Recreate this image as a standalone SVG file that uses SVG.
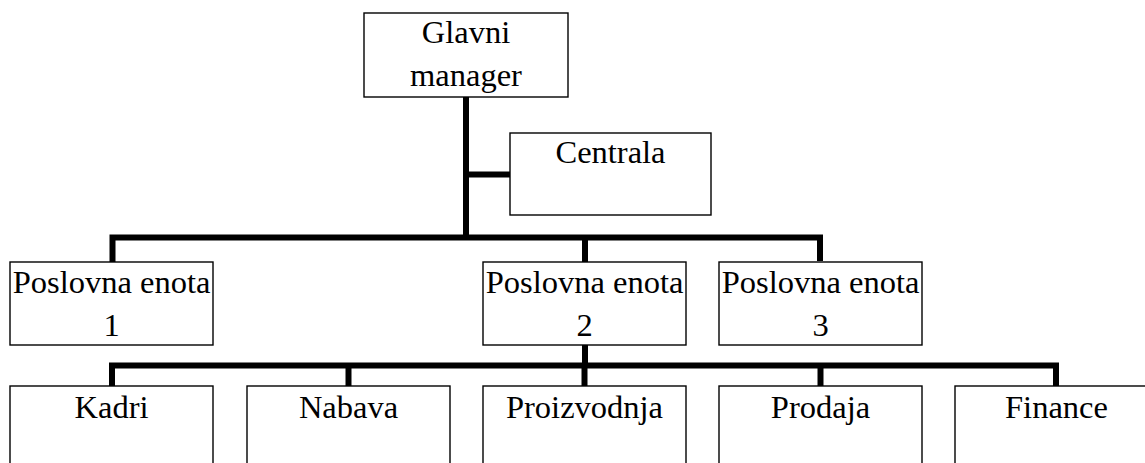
<svg xmlns="http://www.w3.org/2000/svg" width="1145" height="463" viewBox="0 0 1145 463">
<style>
.box{fill:#fff;stroke:#000;stroke-width:1.4}
.t{font-family:"Liberation Serif","Times New Roman",serif;font-size:32.5px;fill:#000;text-anchor:middle}
.c{fill:none;stroke:#000;stroke-width:6;stroke-linejoin:miter;stroke-linecap:butt}
</style>
<rect width="1145" height="463" fill="#fff"/>
<g id="connectors">
<path class="c" d="M466,97 V237.5"/>
<path class="c" d="M466,174.5 H510"/>
<path class="c" d="M112.5,262 V237.5 H820 V261"/>
<path class="c" d="M585,237.5 V262"/>
<path class="c" d="M585,345 V365.5"/>
<path class="c" d="M112,386 V365.5 H1056 V386"/>
<path class="c" d="M348.5,365.5 V386"/>
<path class="c" d="M584.5,365.5 V386"/>
<path class="c" d="M820.5,365.5 V386"/>
</g>
<g id="glavni">
<rect class="box" x="364" y="13" width="204" height="84"/>
<text class="t" x="466" y="43">Glavni</text>
<text class="t" x="466" y="86">manager</text>
</g>
<g id="centrala">
<rect class="box" x="510" y="133" width="201" height="82"/>
<text class="t" x="610.5" y="163">Centrala</text>
</g>
<g id="pe1">
<rect class="box" x="10" y="262" width="203" height="83"/>
<text class="t" x="111.5" y="293">Poslovna enota</text>
<text class="t" x="111.5" y="336">1</text>
</g>
<g id="pe2">
<rect class="box" x="483" y="262" width="203" height="83"/>
<text class="t" x="584.5" y="293">Poslovna enota</text>
<text class="t" x="584.5" y="336">2</text>
</g>
<g id="pe3">
<rect class="box" x="719" y="262" width="203" height="83"/>
<text class="t" x="820.5" y="293">Poslovna enota</text>
<text class="t" x="820.5" y="336">3</text>
</g>
<g id="kadri">
<rect class="box" x="10" y="386" width="203" height="90"/>
<text class="t" x="111.5" y="418">Kadri</text>
</g>
<g id="nabava">
<rect class="box" x="247" y="386" width="203" height="90"/>
<text class="t" x="348.5" y="418">Nabava</text>
</g>
<g id="proizvodnja">
<rect class="box" x="483" y="386" width="203" height="90"/>
<text class="t" x="584.5" y="418">Proizvodnja</text>
</g>
<g id="prodaja">
<rect class="box" x="719" y="386" width="203" height="90"/>
<text class="t" x="820.5" y="418">Prodaja</text>
</g>
<g id="finance">
<rect class="box" x="955" y="386" width="203" height="90"/>
<text class="t" x="1056.5" y="418">Finance</text>
</g>
</svg>
